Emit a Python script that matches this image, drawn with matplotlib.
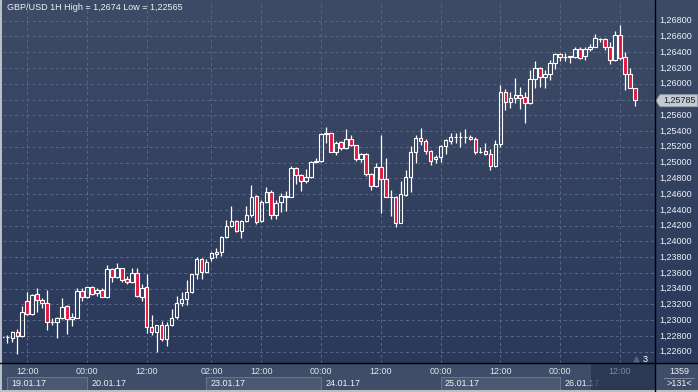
import numpy as np
import matplotlib
matplotlib.use("Agg")
import matplotlib.pyplot as plt
from matplotlib.colors import LinearSegmentedColormap
from matplotlib.patches import Rectangle, Polygon
from matplotlib.lines import Line2D

plt.rcParams['font.family'] = ['Liberation Sans', 'DejaVu Sans']

# GBP/USD hourly candles, bar index (0 = 19.01.17 08:00)
bar_idx = np.arange(-1, 127)
opens = [1.22786, 1.22786, 1.22770, 1.22846, 1.22799, 1.23243, 1.23074, 1.23328, 1.23256, 1.23214,
         1.22981, 1.22981, 1.23023, 1.23180, 1.23015, 1.23032, 1.23370, 1.23298, 1.23417, 1.23341,
         1.23383, 1.23298, 1.23649, 1.23552, 1.23658, 1.23518, 1.23480, 1.23594, 1.23298, 1.23417,
         1.22910, 1.22855, 1.22935, 1.22757, 1.22939, 1.23036, 1.23223, 1.23265, 1.23362, 1.23582,
         1.23777, 1.23608, 1.23785, 1.23840, 1.23861, 1.24052, 1.24200, 1.24255, 1.24136, 1.24255,
         1.24331, 1.24576, 1.24263, 1.24504, 1.24622, 1.24335, 1.24495, 1.24567, 1.24567, 1.24927,
         1.24838, 1.24762, 1.24813, 1.25011, 1.25024, 1.25362, 1.25371, 1.25138, 1.25257, 1.25181,
         1.25295, 1.25223, 1.25045, 1.25104, 1.24851, 1.24703, 1.24940, 1.24787, 1.24567, 1.24567,
         1.24238, 1.24589, 1.24821, 1.25130, 1.25308, 1.25274, 1.25151, 1.25041, 1.25067, 1.25210,
         1.25278, 1.25320, 1.25320, 1.25320, 1.25329, 1.25303, 1.25138, 1.25147, 1.25105, 1.24957,
         1.25232, 1.25891, 1.25772, 1.25815, 1.25857, 1.25831, 1.25751, 1.26056, 1.26204, 1.26081,
         1.26119, 1.26259, 1.26373, 1.26339, 1.26348, 1.26343, 1.26436, 1.26348, 1.26436, 1.26470,
         1.26567, 1.26567, 1.26462, 1.26301, 1.26618, 1.26335, 1.26119, 1.25941]
highs = [1.22790, 1.22812, 1.22863, 1.22888, 1.23184, 1.23353, 1.23332, 1.23404, 1.23277, 1.23383,
         1.23023, 1.23044, 1.23286, 1.23193, 1.23087, 1.23404, 1.23404, 1.23425, 1.23434, 1.23413,
         1.23404, 1.23700, 1.23666, 1.23730, 1.23666, 1.23561, 1.23662, 1.23662, 1.23455, 1.23586,
         1.23066, 1.22943, 1.22990, 1.22982, 1.23142, 1.23311, 1.23362, 1.23510, 1.23586, 1.23798,
         1.23785, 1.23773, 1.23870, 1.23921, 1.24069, 1.24272, 1.24449, 1.24272, 1.24272, 1.24449,
         1.24715, 1.24584, 1.24525, 1.24686, 1.24652, 1.24525, 1.24610, 1.24639, 1.24956, 1.24939,
         1.24855, 1.24914, 1.25019, 1.25054, 1.25379, 1.25456, 1.25379, 1.25278, 1.25278, 1.25426,
         1.25350, 1.25227, 1.25126, 1.25126, 1.24863, 1.24990, 1.25350, 1.25054, 1.24652, 1.24576,
         1.24770, 1.24906, 1.25210, 1.25350, 1.25435, 1.25295, 1.25160, 1.25096, 1.25223, 1.25295,
         1.25371, 1.25380, 1.25392, 1.25422, 1.25346, 1.25329, 1.25193, 1.25244, 1.25168, 1.25287,
         1.25984, 1.25933, 1.25891, 1.26068, 1.25963, 1.25899, 1.26174, 1.26288, 1.26216, 1.26174,
         1.26301, 1.26394, 1.26386, 1.26386, 1.26348, 1.26462, 1.26470, 1.26462, 1.26500, 1.26631,
         1.26576, 1.26576, 1.26534, 1.26669, 1.26745, 1.26398, 1.26195, 1.25950]
lows = [1.22786, 1.22706, 1.22727, 1.22567, 1.22791, 1.23066, 1.23066, 1.23108, 1.23159, 1.22875,
        1.22939, 1.22770, 1.23015, 1.22825, 1.22926, 1.23023, 1.23243, 1.23277, 1.23319, 1.23311,
        1.23290, 1.23286, 1.23489, 1.23539, 1.23480, 1.23455, 1.23472, 1.23298, 1.23248, 1.22842,
        1.22812, 1.22600, 1.22740, 1.22673, 1.22927, 1.23015, 1.23185, 1.23193, 1.23350, 1.23518,
        1.23518, 1.23594, 1.23756, 1.23794, 1.23819, 1.24039, 1.24187, 1.24119, 1.24048, 1.24242,
        1.24314, 1.24220, 1.24250, 1.24491, 1.24288, 1.24280, 1.24377, 1.24390, 1.24559, 1.24728,
        1.24643, 1.24736, 1.24804, 1.24990, 1.25011, 1.25244, 1.25134, 1.25096, 1.25159, 1.25168,
        1.25210, 1.25024, 1.25003, 1.24834, 1.24652, 1.24686, 1.24364, 1.24559, 1.24322, 1.24187,
        1.24229, 1.24576, 1.24631, 1.24999, 1.25223, 1.25109, 1.24969, 1.24990, 1.25003, 1.25109,
        1.25232, 1.25244, 1.25202, 1.25253, 1.25287, 1.25109, 1.25117, 1.25096, 1.24906, 1.24948,
        1.25193, 1.25666, 1.25688, 1.25751, 1.25679, 1.25497, 1.25738, 1.25950, 1.25963, 1.25950,
        1.26047, 1.26183, 1.26288, 1.26293, 1.26259, 1.26331, 1.26309, 1.26301, 1.26415, 1.26462,
        1.26534, 1.26428, 1.26246, 1.26288, 1.26301, 1.25920, 1.25941, 1.25721]
closes = [1.22786, 1.22790, 1.22846, 1.22795, 1.23108, 1.23074, 1.23319, 1.23256, 1.23214, 1.22973,
          1.22981, 1.23023, 1.23171, 1.23011, 1.23040, 1.23370, 1.23298, 1.23417, 1.23328, 1.23383,
          1.23298, 1.23649, 1.23552, 1.23658, 1.23510, 1.23489, 1.23594, 1.23307, 1.23404, 1.22910,
          1.22855, 1.22935, 1.22757, 1.22935, 1.23024, 1.23214, 1.23265, 1.23362, 1.23582, 1.23777,
          1.23608, 1.23743, 1.23848, 1.23861, 1.24052, 1.24200, 1.24255, 1.24128, 1.24255, 1.24331,
          1.24567, 1.24250, 1.24495, 1.24622, 1.24330, 1.24483, 1.24576, 1.24576, 1.24927, 1.24842,
          1.24766, 1.24813, 1.25011, 1.25024, 1.25362, 1.25371, 1.25138, 1.25253, 1.25181, 1.25295,
          1.25219, 1.25045, 1.25104, 1.24851, 1.24703, 1.24939, 1.24787, 1.24559, 1.24567, 1.24229,
          1.24597, 1.24821, 1.25130, 1.25308, 1.25274, 1.25151, 1.25024, 1.25067, 1.25210, 1.25287,
          1.25320, 1.25320, 1.25320, 1.25320, 1.25303, 1.25138, 1.25138, 1.25109, 1.24957, 1.25232,
          1.25895, 1.25772, 1.25815, 1.25857, 1.25823, 1.25751, 1.26056, 1.26195, 1.26081, 1.26119,
          1.26259, 1.26377, 1.26339, 1.26339, 1.26339, 1.26441, 1.26331, 1.26441, 1.26470, 1.26576,
          1.26567, 1.26462, 1.26301, 1.26618, 1.26331, 1.26119, 1.25941, 1.25789]

title_text = "GBP/USD 1H High = 1,2674 Low = 1,22565"
last_price = 1.25785
price_ticks = np.round(np.arange(1.226, 1.2681, 0.002), 3)

hour_idx = [4, 16, 28, 41, 51, 63, 75, 87, 99, 111, 123]
hour_labels = ["12:00", "00:00", "12:00", "02:00", "12:00", "00:00",
               "12:00", "00:00", "12:00", "00:00", "12:00"]
day_start = [0, 16, 40, 63, 87, 111]
day_labels = ["19.01.17", "20.01.17", "23.01.17", "24.01.17", "25.01.17", "26.01.17"]

W, H = 698, 392
X0, X1 = -0.863, 130.06          # visible bar range
Y0, Y1 = 1.22457, 1.27050        # visible price range


def px_box(x0, y0, x1, y1):
    # pixel box (origin top-left) -> figure rect
    return [x0 / W, 1 - y1 / H, (x1 - x0) / W, (y1 - y0) / H]


fig = plt.figure(figsize=(W / 100, H / 100), dpi=100)
fig.patch.set_facecolor('#3f4d68')

# background gradient of the chart + price scale
bg = fig.add_axes(px_box(0, 0, W, 363))
cmap = LinearSegmentedColormap.from_list('bg', ['#3e4b66', '#2a395b'])
bg.imshow(np.linspace(0, 1, 256)[:, None], aspect='auto', cmap=cmap, extent=(0, 1, 0, 1))
bg.set_axis_off()

# main candle area
ax = fig.add_axes(px_box(3, 1, 655, 363))
ax.set_facecolor('none')
ax.set_xlim(X0, X1)
ax.set_ylim(Y0, Y1)
for s in ax.spines.values():
    s.set_visible(False)
ax.set_xticks(hour_idx)
ax.set_yticks(price_ticks)
ax.tick_params(length=0, labelbottom=False, labelleft=False)
ax.grid(True, color='#5a6885', lw=0.7, linestyle=(0, (3, 3)))
ax.set_axisbelow(True)

o = np.array(opens)
h = np.array(highs)
l = np.array(lows)
c = np.array(closes)
top = np.maximum(o, c)
bot = np.minimum(o, c)
ax.vlines(bar_idx, top, h, color='white', lw=0.9, zorder=3)
ax.vlines(bar_idx, l, bot, color='white', lw=0.9, zorder=3)
colors = ['#e3173f' if cc < oo else 'none' for oo, cc in zip(o, c)]
ax.bar(bar_idx, np.maximum(top - bot, 1e-7), bottom=bot, width=0.7,
       color=colors, edgecolor='white', linewidth=0.8, zorder=4)

ax.text(4 / 652 * (X1 - X0) + X0, 1.268 + 13 / 7882, title_text, color='#eef1f6',
        fontsize=6.5, va='center', ha='left')
ax.plot([126.2], [1.22475 + 0.0003], marker='^', color='#56637d', ms=3.5, zorder=5)
ax.text(127.6, 1.22475 + 0.0003, "3", color='white', fontsize=6.5, va='center', ha='left')

# price scale
axr = fig.add_axes(px_box(655, 1, W, 363))
axr.set_facecolor('none')
axr.set_xlim(0, 43)
axr.set_ylim(Y0, Y1)
axr.set_axis_off()
for v in price_ticks:
    axr.text(4, v, f"{v:.5f}".replace('.', ','), color='#eef1f6', fontsize=6.5,
             va='center', ha='left')
hh = 6 / 7882
axr.add_patch(Polygon([(1, last_price), (5, last_price + hh), (42.5, last_price + hh),
                       (42.5, last_price - hh), (5, last_price - hh)],
                      closed=True, facecolor='#c6cad1', edgecolor='#9aa2ae', lw=0.6, zorder=5))
axr.text(8, last_price, f"{last_price:.5f}".replace('.', ','), color='#1b2230', fontsize=6.5,
         va='center', ha='left', zorder=6)

# time scale
axt = fig.add_axes(px_box(3, 363, 655, 392))
axt.set_facecolor('#425069')
axt.set_xlim(X0, X1)
axt.set_ylim(392, 363)
axt.set_axis_off()
for k, (d0, lab) in enumerate(zip(day_start, day_labels)):
    if k % 2 == 0:
        d1 = day_start[k + 1] if k + 1 < len(day_start) else X1
        axt.add_patch(Rectangle((d0, 377), d1 - d0, 14, facecolor='#4b5872',
                                edgecolor='#6a7790', lw=0.7))
    axt.text(d0 + 0.9, 383.5, lab, color='#eef1f6', fontsize=6.5, va='center', ha='left')
for i, lab in zip(hour_idx, hour_labels):
    col = '#7d8aa0' if i > 117 else '#dfe5ee'
    axt.text(i, 372, lab, color=col, fontsize=6.5, va='center', ha='center', zorder=5)
axt.add_patch(Rectangle((117.2, 363), X1 - 117.2, 29, facecolor='#26334f', alpha=0.75,
                        edgecolor='none', zorder=4))

# corner box
axc = fig.add_axes(px_box(655, 363, W, 392))
axc.set_facecolor('#425069')
axc.set_xlim(655, W)
axc.set_ylim(392, 363)
axc.set_axis_off()
axc.text(679, 371.5, "1359", color='#eef1f6', fontsize=6.5, va='center', ha='center')
axc.plot([664, 694], [377.5, 377.5], color='#8893a6', lw=0.6)
axc.text(679, 383.5, ">131<", color='#eef1f6', fontsize=6.5, va='center', ha='center')

# separators and frame
fig.add_artist(Line2D([0, 1], [1 - 363 / H] * 2, color='black', lw=1.0))
fig.add_artist(Line2D([655 / W] * 2, [0, 1], color='black', lw=1.0))
fig.add_artist(Rectangle((0, 0), 2 / W, 1, transform=fig.transFigure,
                         facecolor='#b9bec7', edgecolor='none'))
fig.add_artist(Rectangle((0, 0), 1, 2.5 / H, transform=fig.transFigure,
                         facecolor='#b9bec7', edgecolor='none'))

fig.savefig("out.png", dpi=100)
